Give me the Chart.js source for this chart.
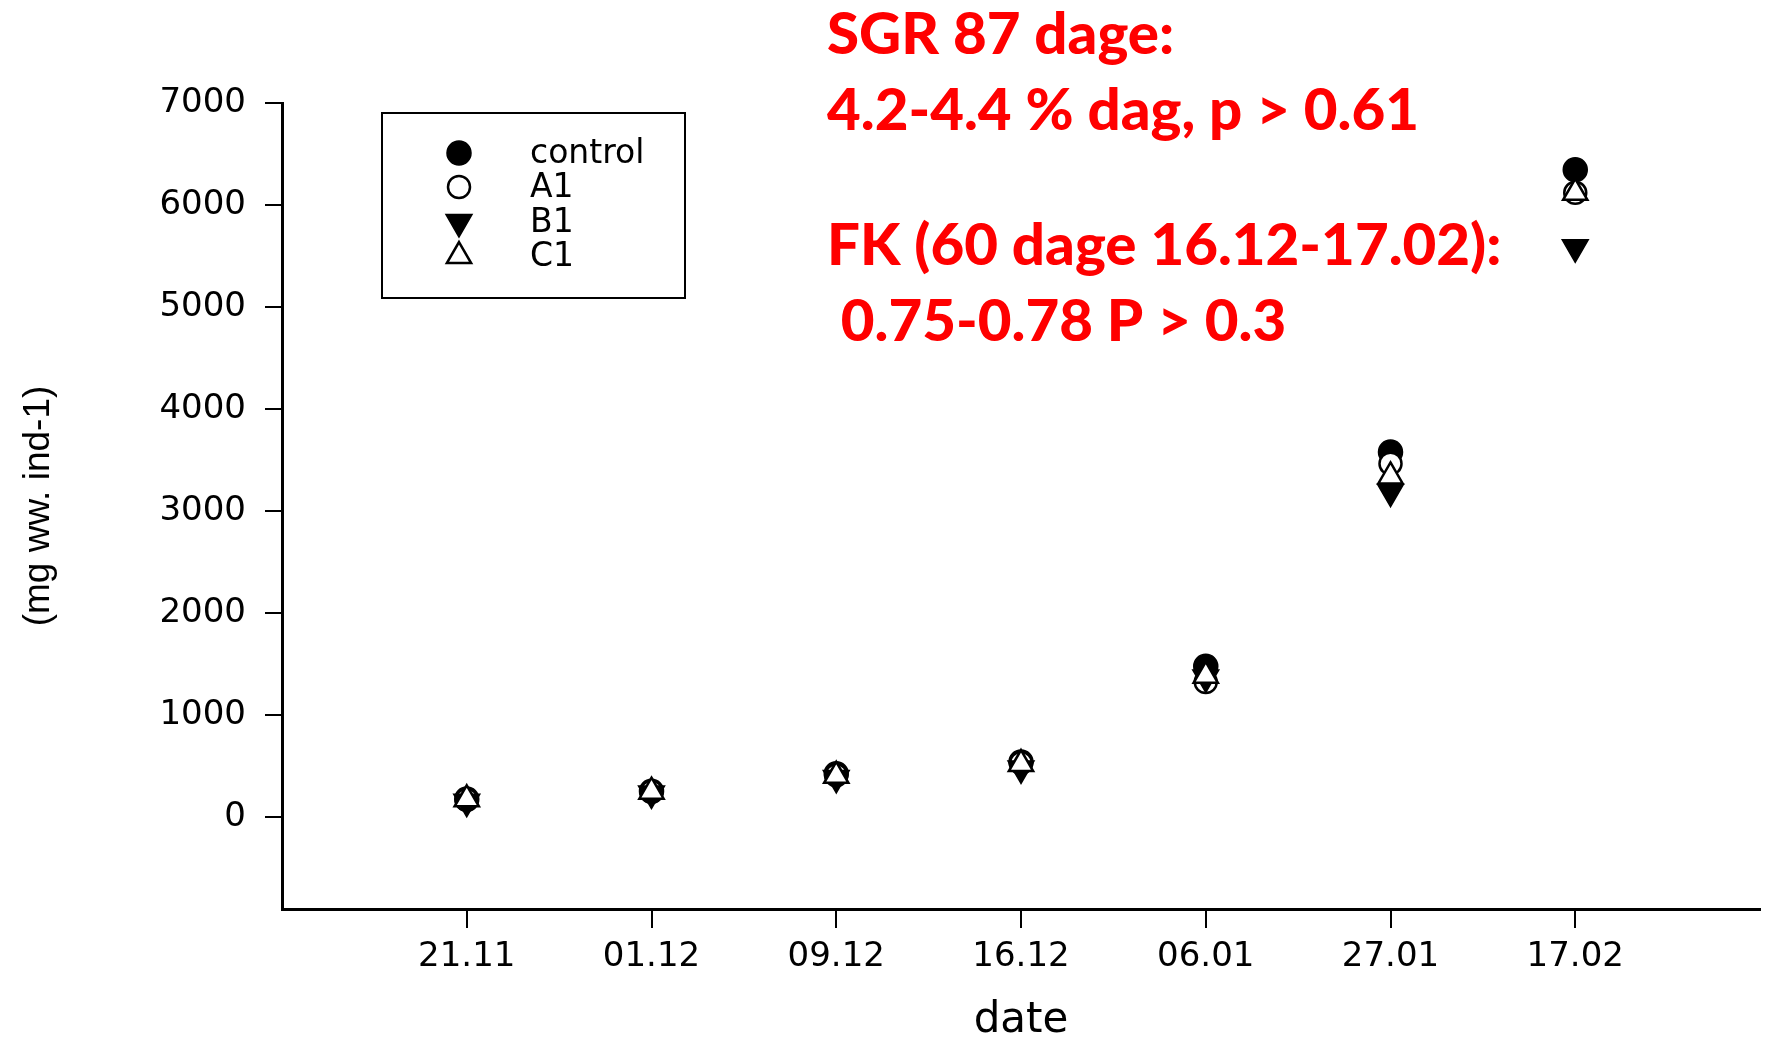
<!DOCTYPE html>
<html>
<head>
<meta charset="utf-8">
<script src="https://cdn.jsdelivr.net/npm/chart.js@4/dist/chart.umd.min.js"></script>
<style>
html, body { margin: 0; padding: 0; background: #fff; overflow: hidden; }
canvas { display: block; }
</style>
</head>
<body>
<canvas id="grafico" width="1769" height="1040"></canvas>
<script>
// Datos
const fechas = ['21.11', '01.12', '09.12', '16.12', '06.01', '27.01', '17.02'];
const control = [177, 254, 425, 540, 1480, 3580, 6345];
const a1 = [170, 248, 410, 530, 1325, 3465, 6120];
const b1 = [150, 232, 385, 478, 1370, 3190, 5585];
const c1 = [175, 250, 405, 520, 1385, 3340, 6120];
const yTicks = [0, 1000, 2000, 3000, 4000, 5000, 6000, 7000];
const notas = ['SGR 87 dage:', '4.2-4.4 % dag, p > 0.61', 'FK (60 dage 16.12-17.02):', ' 0.75-0.78 P > 0.3'];
const nombres = ['control', 'A1', 'B1', 'C1'];

function puntos(serie) {
    return serie.map((v, i) => ({ x: i + 1, y: v }));
}

// leyenda dentro del grafico, con caja
const leyendaCaja = {
    id: 'leyendaCaja',
    afterDraw(chart) {
        const ctx = chart.ctx;
        ctx.save();
        ctx.lineWidth = 2;
        ctx.strokeStyle = '#000';
        ctx.strokeRect(382, 113, 303, 185);
        const filas = [153, 187, 222, 256];
        chart.data.datasets.forEach((ds, i) => {
            ctx.fillStyle = ds.backgroundColor;
            ctx.strokeStyle = ds.borderColor;
            ctx.lineWidth = ds.borderWidth;
            Chart.helpers.drawPoint(ctx, {
                pointStyle: ds.pointStyle,
                rotation: ds.rotation || 0,
                radius: ds.pointRadius,
                borderWidth: ds.borderWidth
            }, 459, filas[i]);
            ctx.fillStyle = '#000';
            ctx.font = '33px "DejaVu Sans"';
            ctx.textBaseline = 'middle';
            ctx.fillText(ds.label, 530, filas[i] + 1);
        });
        ctx.restore();
    }
};

// texto rojo arriba
const notasRojas = {
    id: 'notasRojas',
    afterDraw(chart) {
        const ctx = chart.ctx;
        ctx.save();
        ctx.fillStyle = '#ff0000';
        ctx.font = '900 57px Lato';
        ctx.textBaseline = 'alphabetic';
        const escala = 592 / ctx.measureText(notas[1]).width;
        const base = [54, 130, 265, 341];
        notas.forEach((t, i) => {
            ctx.save();
            ctx.translate(827, base[i]);
            ctx.scale(escala, 1);
            ctx.fillText(t, 0, 0);
            ctx.restore();
        });
        ctx.restore();
    }
};

const ctx = document.querySelector('#grafico').getContext('2d');
new Chart(ctx, {
    type: 'scatter',
    data: {
        datasets: [
            {
                label: nombres[0], data: puntos(control), order: 4,
                pointStyle: 'circle', pointRadius: 12,
                backgroundColor: '#000', borderColor: '#000', borderWidth: 1.5
            },
            {
                label: nombres[1], data: puntos(a1), order: 3,
                pointStyle: 'circle', pointRadius: 11,
                backgroundColor: '#fff', borderColor: '#000', borderWidth: 2.5
            },
            {
                label: nombres[2], data: puntos(b1), order: 2,
                pointStyle: 'triangle', rotation: 180, pointRadius: 15,
                backgroundColor: '#000', borderColor: '#000', borderWidth: 1.5
            },
            {
                label: nombres[3], data: puntos(c1), order: 1,
                pointStyle: 'triangle', pointRadius: 14,
                backgroundColor: '#fff', borderColor: '#000', borderWidth: 2.5
            }
        ]
    },
    options: {
        responsive: false,
        animation: false,
        layout: { autoPadding: false, padding: { top: 103, right: 9, left: 0, bottom: 0 } },
        plugins: {
            legend: { display: false },
            tooltip: { enabled: false }
        },
        scales: {
            x: {
                type: 'linear',
                min: 0,
                max: 8,
                afterBuildTicks: s => { s.ticks = fechas.map((f, i) => ({ value: i + 1 })); },
                afterFit: s => { s.height = 131; s.paddingLeft = 0; s.paddingRight = 0; },
                grid: { drawOnChartArea: false, drawTicks: true, tickLength: 19, color: '#000', lineWidth: 2 },
                border: { display: true, color: '#000', width: 3 },
                ticks: {
                    padding: 9,
                    color: '#000',
                    font: { family: 'DejaVu Sans', size: 34 },
                    maxRotation: 0,
                    callback: v => fechas[v - 1]
                },
                title: {
                    display: true,
                    text: 'date',
                    color: '#000',
                    font: { family: 'DejaVu Sans', size: 42, lineHeight: 0.9 },
                    padding: { top: 0, bottom: 0 }
                }
            },
            y: {
                min: -900,
                max: 7000,
                afterBuildTicks: s => { s.ticks = yTicks.map(v => ({ value: v })); },
                afterFit: s => { s.width = 282; s.paddingTop = 0; s.paddingBottom = 0; },
                grid: { drawOnChartArea: false, drawTicks: true, tickLength: 17, color: '#000', lineWidth: 2 },
                border: { display: true, color: '#000', width: 3 },
                ticks: {
                    padding: 19,
                    color: '#000',
                    font: { family: 'DejaVu Sans', size: 34 },
                    callback: v => String(v)
                },
                title: {
                    display: true,
                    text: '(mg ww. ind-1)',
                    color: '#000',
                    font: { family: 'Liberation Sans', size: 37, lineHeight: 1 },
                    padding: { top: 20, bottom: 0 }
                }
            }
        }
    },
    plugins: [leyendaCaja, notasRojas]
});
</script>
</body>
</html>
